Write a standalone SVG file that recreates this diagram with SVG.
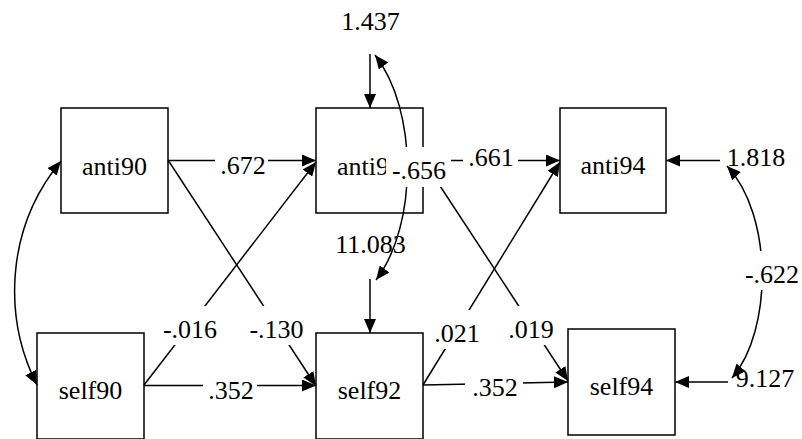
<svg xmlns="http://www.w3.org/2000/svg" width="802" height="439" viewBox="0 0 802 439">
<defs>
<style>
.box{fill:#fff;stroke:#000;stroke-width:1.5}
.t{font-size:26px;fill:#000;text-anchor:middle}
.e{fill:none;stroke:#000;stroke-width:1.5}
.bg{fill:#fff}
</style>
<marker id="ah" markerUnits="userSpaceOnUse" markerWidth="14" markerHeight="12" viewBox="0 0 14 12" refX="14" refY="6" orient="auto-start-reverse">
<path d="M0,0 L14,6 L0,12 z" fill="#000"/>
</marker>
</defs>
<rect width="802" height="439" fill="#fff"/>
<g font-family="Liberation Serif, DejaVu Serif, serif">
<g id="anti90"><rect class="box" x="61" y="108" width="107" height="105"/><text class="t" x="114.5" y="175">anti90</text></g>
<g id="anti92"><rect class="box" x="316" y="108" width="107" height="105"/><text class="t" x="369.5" y="175">anti92</text></g>
<g id="anti94"><rect class="box" x="560" y="108" width="106" height="105"/><text class="t" x="613" y="174">anti94</text></g>
<g id="self90"><rect class="box" x="37" y="333" width="107" height="106"/><text class="t" x="90.5" y="399">self90</text></g>
<g id="self92"><rect class="box" x="316" y="333" width="107" height="106"/><text class="t" x="369.5" y="399">self92</text></g>
<g id="self94"><rect class="box" x="568" y="329" width="107" height="106"/><text class="t" x="621.5" y="395">self94</text></g>
<g id="variances">
<text class="t" x="370.5" y="30">1.437</text>
<text class="t" x="370.5" y="253">11.083</text>
<text class="t" x="756" y="166">1.818</text>
<text class="t" x="765" y="387">9.127</text>
</g>
<g id="connectors">
<path class="e" marker-end="url(#ah)" d="M168,160.5 L316,160.5"/>
<path class="e" marker-end="url(#ah)" d="M144,385 L316,162"/>
<path class="e" marker-end="url(#ah)" d="M168,160 L316,386"/>
<path class="e" marker-end="url(#ah)" d="M144,385.5 L316,385.5"/>
<path class="e" marker-end="url(#ah)" d="M423,160.5 L560,160.5"/>
<path class="e" marker-end="url(#ah)" d="M423,160 L568,381"/>
<path class="e" marker-end="url(#ah)" d="M423,385 L560,162"/>
<path class="e" marker-end="url(#ah)" d="M423,385 L568,382"/>
<path class="e" marker-end="url(#ah)" d="M370,54 L370,108"/>
<path class="e" marker-end="url(#ah)" d="M370,279 L370,333"/>
<path class="e" marker-end="url(#ah)" d="M720,160.5 L666,160.5"/>
<path class="e" marker-end="url(#ah)" d="M728,382 L675,382"/>
<path class="e" marker-start="url(#ah)" marker-end="url(#ah)" d="M61,161 C4,230 4,320 37,385"/>
<path class="e" marker-start="url(#ah)" marker-end="url(#ah)" d="M375,55 C418,110 418,225 376,280"/>
<path class="e" marker-start="url(#ah)" marker-end="url(#ah)" d="M727,166 C773,215 773,330 732,378"/>
</g>
<g id="labels">
<rect class="bg" x="215" y="142" width="53" height="39"/><text class="t" x="243" y="174">.672</text>
<rect class="bg" x="386" y="147" width="65" height="40"/><text class="t" x="419" y="179">-.656</text>
<rect class="bg" x="463" y="134" width="55" height="39"/><text class="t" x="491" y="166">.661</text>
<rect class="bg" x="160" y="306" width="60" height="39"/><text class="t" x="190" y="338">-.016</text>
<rect class="bg" x="247" y="306" width="59" height="39"/><text class="t" x="276.5" y="338">-.130</text>
<rect class="bg" x="203" y="367" width="54" height="39"/><text class="t" x="231" y="399">.352</text>
<rect class="bg" x="430" y="310" width="54" height="39"/><text class="t" x="457" y="342">.021</text>
<rect class="bg" x="504" y="306" width="54" height="39"/><text class="t" x="531" y="338">.019</text>
<rect class="bg" x="465" y="364" width="58" height="39"/><text class="t" x="495" y="396">.352</text>
<rect class="bg" x="743" y="251" width="58" height="39"/><text class="t" x="772" y="283">-.622</text>
</g>
</g>
</svg>
